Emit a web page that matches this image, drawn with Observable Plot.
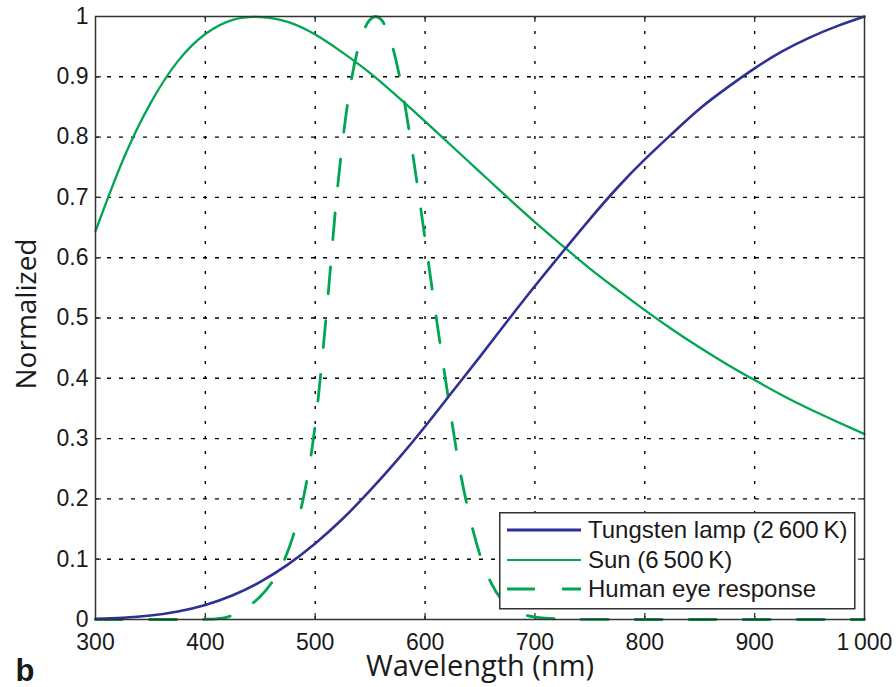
<!DOCTYPE html>
<html><head><meta charset="utf-8">
<script src="https://cdn.jsdelivr.net/npm/d3@7"></script>
<script src="https://cdn.jsdelivr.net/npm/@observablehq/plot@0.6"></script>
<style>
body{margin:0;background:#fff}
#wrap{position:relative;width:896px;height:687px}
#legend{position:absolute}
</style>
</head><body><div id="wrap"></div>
<script>
// ---- data ----
const wavelengths = [300,325,350,375,400,425,450,475,500,525,550,575,600,625,650,675,700,725,750,775,800,825,850,875,900,925,950,975,1000];
const tungsten = [0.001,0.0028,0.0065,0.0133,0.0242,0.0403,0.0624,0.0909,0.126,0.167,0.214,0.265,0.320,0.378,0.436,0.495,0.553,0.609,0.664,0.716,0.763,0.806,0.847,0.882,0.914,0.942,0.965,0.984,1.0];
const sun = [0.644,0.762,0.856,0.926,0.971,0.9945,0.999,0.991,0.970,0.940,0.906,0.867,0.826,0.784,0.742,0.700,0.659,0.620,0.582,0.547,0.513,0.481,0.451,0.423,0.397,0.372,0.349,0.328,0.3075];
const eyeWavelengths = [300,320,340,360,380,390,400,410,420,430,440,450,460,470,480,490,500,510,520,530,540,550,555,560,570,580,590,600,610,620,630,640,650,660,670,680,690,700,710,720,730,740,750,800,850,900,950,1000];
const eyeResponse = [0,0,0,0,0.00004,0.00012,0.0004,0.0012,0.004,0.0116,0.023,0.038,0.06,0.091,0.139,0.208,0.323,0.503,0.71,0.862,0.954,0.995,1.0,0.995,0.952,0.87,0.757,0.631,0.503,0.381,0.265,0.175,0.107,0.061,0.032,0.017,0.0082,0.0041,0.0021,0.00105,0.00052,0.00025,0.00012,0,0,0,0,0];
const xTicks = [300,400,500,600,700,800,900,1000];
const xTickLabels = ["300","400","500","600","700","800","900","1\u2009000"];
const yTicks = [0,0.1,0.2,0.3,0.4,0.5,0.6,0.7,0.8,0.9,1];
const seriesNames = ["Tungsten lamp (2\u2009600\u2009K)","Sun (6\u2009500\u2009K)","Human eye response"];
const seriesColors = ["#2e3192","#00a651","#00a651"];
const xLabel = "Wavelength (nm)";
const yLabel = "Normalized";
const panelLetter = "b";

// ---- tables ----
const tungstenData = wavelengths.map((w,i)=>({w, v: tungsten[i]}));
const sunData = wavelengths.map((w,i)=>({w, v: sun[i]}));
const eyeData = eyeWavelengths.map((w,i)=>({w, v: eyeResponse[i]}));
const xTickData = xTicks.map((t,i)=>({t, label: xTickLabels[i]}));

const W=896, H=687, mL=95, mR=32, mT=16, mB=68;
const fw = W-mL-mR, fh = H-mT-mB;
const innerX = xTicks.slice(1,-1), innerY = yTicks.slice(1,-1);
const tickLen = 6;
const frameColor = "#333";
const sans = "'Liberation Sans', Arial, sans-serif";
const labelFont = "'Open Sans', sans-serif";

const chart = Plot.plot({
  width: W, height: H,
  marginLeft: mL, marginRight: mR, marginTop: mT, marginBottom: mB,
  style: {fontFamily: sans, fontSize: "24px", color: "#1a1a1a", background: "#fff", overflow: "visible"},
  x: {domain: [300,1000], ticks: xTicks, axis: null},
  y: {domain: [0,1], ticks: yTicks},
  marks: [
    Plot.gridX(innerX, {stroke: "#000", strokeOpacity: 1, strokeWidth: 1.4, strokeDasharray: "3,12"}),
    Plot.gridY(innerY, {stroke: "#000", strokeOpacity: 1, strokeWidth: 1.4, strokeDasharray: "4,8"}),
    Plot.tickX(innerX, {x: d=>d, stroke: frameColor, strokeWidth: 1.3, insetTop: fh-tickLen}),
    Plot.tickX(innerX, {x: d=>d, stroke: frameColor, strokeWidth: 1.3, insetBottom: fh-tickLen}),
    Plot.tickY(innerY, {y: d=>d, stroke: frameColor, strokeWidth: 1.3, insetRight: fw-tickLen}),
    Plot.tickY(innerY, {y: d=>d, stroke: frameColor, strokeWidth: 1.3, insetLeft: fw-tickLen}),
    Plot.line(eyeData, {x: "w", y: "v", stroke: seriesColors[2], strokeWidth: 2.8, strokeDasharray: "27,27", curve: "monotone-x"}),
    Plot.line(sunData, {x: "w", y: "v", stroke: seriesColors[1], strokeWidth: 2.3, curve: "natural"}),
    Plot.line(tungstenData, {x: "w", y: "v", stroke: seriesColors[0], strokeWidth: 2.6, curve: "natural"}),
    Plot.frame({stroke: frameColor, strokeWidth: 1.5}),
    Plot.text(xTickData, {x: "t", text: "label", frameAnchor: "bottom", dy: 14, lineAnchor: "top",
      textAnchor: "middle", fontSize: 23, fontFamily: sans, fill: "#1a1a1a"}),
    Plot.axisY(yTicks, {tickSize: 0, tickPadding: 7, label: null, fontSize: 23,
      tickFormat: d => d === 0 ? "0" : d === 1 ? "1" : d.toFixed(1)}),
    Plot.text([xLabel], {text: d=>d, frameAnchor: "bottom", dy: 36, lineAnchor: "top", textAnchor: "middle",
      fontSize: 29, fontFamily: labelFont, fill: "#1a1a1a"}),
    Plot.text([yLabel], {text: d=>d, frameAnchor: "left", dx: -68, dy: -4, rotate: -90, textAnchor: "middle",
      fontSize: 28, fontFamily: labelFont, fill: "#1a1a1a"}),
    Plot.text([panelLetter], {text: d=>d, frameAnchor: "bottom-left", dx: -80, dy: 61, lineAnchor: "bottom",
      textAnchor: "start", fontSize: 31, fontWeight: "bold", fontFamily: sans, fill: "#1a1a1a"})
  ]
});
document.getElementById("wrap").appendChild(chart);

// ---- legend (overlay box inside the plot area) ----
const lg = {left: 499, top: 512, w: 355, h: 96};
const leg = d3.select("#wrap").append("svg").attr("id","legend")
  .style("left", lg.left+"px").style("top", lg.top+"px")
  .attr("width", lg.w+2).attr("height", lg.h+2);
leg.append("rect").attr("x",0.75).attr("y",0.75).attr("width",lg.w).attr("height",lg.h)
  .attr("fill","#fff").attr("stroke",frameColor).attr("stroke-width",1.5);
const rowY = [18,48,77];
const widths = [3,2.2,3];
const dashes = [null,null,"28,27"];
seriesNames.forEach((name,i)=>{
  const l = leg.append("line").attr("x1",8).attr("x2",82).attr("y1",rowY[i]).attr("y2",rowY[i])
    .attr("stroke",seriesColors[i]).attr("stroke-width",widths[i]);
  if (dashes[i]) l.attr("stroke-dasharray",dashes[i]);
  leg.append("text").attr("x",89).attr("y",rowY[i]+8).text(name)
    .attr("font-family",sans).attr("font-size",24).attr("fill","#1a1a1a");
});
</script>
</body></html>
